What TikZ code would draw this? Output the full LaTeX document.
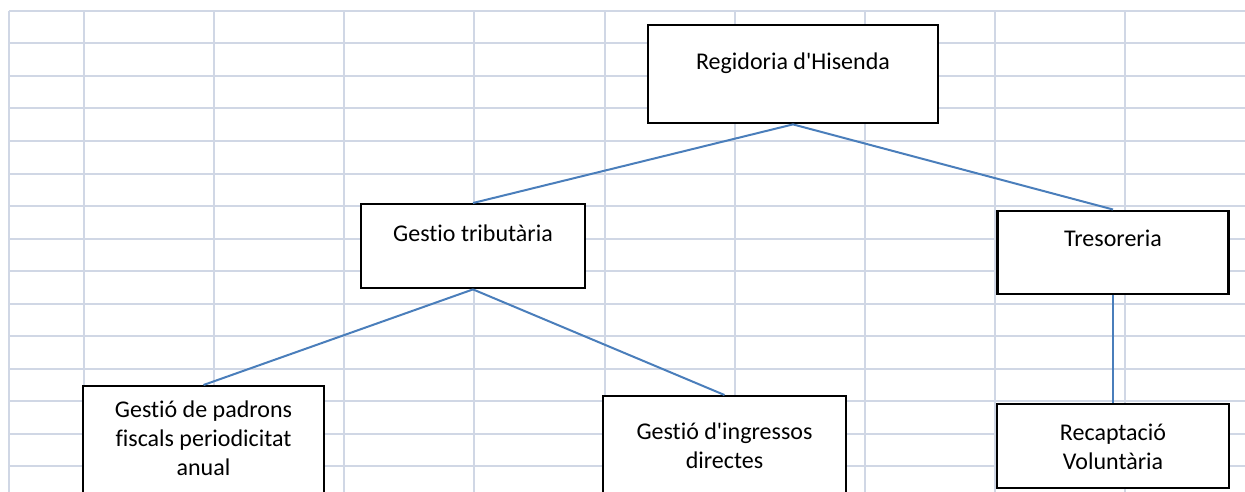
\documentclass[tikz,border=0pt]{standalone}
\usepackage{fontspec}
\newfontfamily\boxfont[Ligatures=NoCommon]{Carlito}
\definecolor{cellgray}{HTML}{D0D7E5}
\definecolor{linkblue}{HTML}{4A7EBB}

\begin{document}
\begin{tikzpicture}[x=1pt,y=-1pt,
    cell/.style={draw=cellgray, line width=2pt},
    box/.style={draw=black, line width=2.4pt, fill=white, inner sep=0pt, align=center, anchor=north, font={\fontsize{24}{29}\boxfont}},
    link/.style={draw=linkblue, line width=2pt}]
    \useasboundingbox (0,0) rectangle (1245,492);
    \clip (0,0) rectangle (1245,492);
    % grid of the sheet
    \foreach \x in {9,84,214,344,474,605,735,865,995,1125}
        \draw[cell] (\x,11) -- (\x,500);
    \foreach \k in {0,...,14}
        \draw[cell] (9,{11+32.5*\k}) -- (1250,{11+32.5*\k});
    % boxes
    \node[box, minimum width=290pt, text height=44pt, text depth=54pt] (reg) at (793,24) {Regidoria d'Hisenda};
    \node[box, minimum width=224pt, text height=37pt, text depth=47pt] (gest) at (473,203) {Gestio tributària};
    \node[box, minimum width=231pt, text height=35.5pt, text depth=47.5pt] (tres) at (1113,209.5) {Tresoreria};
    \node[box, minimum width=241pt, text height=89pt, text depth=60pt] (padr) at (203.5,385) {Gestió de padrons\\fiscals periodicitat\\anual};
    \node[box, minimum width=243pt, text height=72pt, text depth=60pt] (ingr) at (724.5,395) {Gestió d'ingressos\\directes};
    \node[box, minimum width=232pt, text height=65pt, text depth=19pt] (reca) at (1113,403) {Recaptació\\Voluntària};
    % connectors
    \draw[link] (reg.south) -- (gest.north);
    \draw[link] (reg.south) -- (tres.north);
    \draw[link] (gest.south) -- (padr.north);
    \draw[link] (gest.south) -- (ingr.north);
    \draw[link] (tres.south) -- (reca.north);
\end{tikzpicture}
\end{document}
